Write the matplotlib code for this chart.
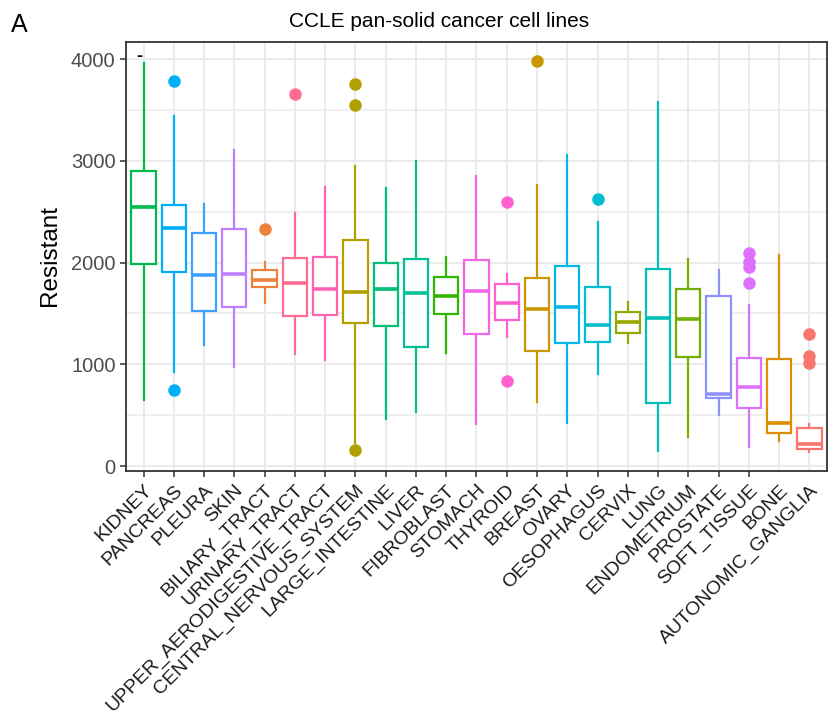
import numpy as np
import matplotlib
matplotlib.use("Agg")
import matplotlib.pyplot as plt

plt.rcParams["font.family"] = ["Liberation Sans", "DejaVu Sans"]

# Box statistics (Resistant score per tissue)
tissues = ["KIDNEY", "PANCREAS", "PLEURA", "SKIN", "BILIARY_TRACT", "URINARY_TRACT",
           "UPPER_AERODIGESTIVE_TRACT", "CENTRAL_NERVOUS_SYSTEM", "LARGE_INTESTINE",
           "LIVER", "FIBROBLAST", "STOMACH", "THYROID", "BREAST", "OVARY", "OESOPHAGUS",
           "CERVIX", "LUNG", "ENDOMETRIUM", "PROSTATE", "SOFT_TISSUE", "BONE",
           "AUTONOMIC_GANGLIA"]
whis_lo = [649, 921, 1193, 976, 1599, 1101, 1042, 223, 459, 534, 1107, 409,
           1271, 632, 426, 904, 1206, 151, 282, 501, 190, 249, 141]
q1 = [1985, 1904, 1523, 1566, 1762, 1474, 1484, 1402, 1376, 1173, 1494, 1297,
      1435, 1133, 1206, 1222, 1310, 622, 1074, 672, 573, 321, 167]
median = [2545, 2336, 1873, 1884, 1828, 1795, 1743, 1710, 1743, 1697, 1674, 1720,
          1602, 1543, 1560, 1389, 1415, 1451, 1448, 708, 773, 419, 213]
q3 = [2899, 2565, 2293, 2329, 1926, 2047, 2051, 2224, 1998, 2034, 1854, 2025,
      1789, 1851, 1966, 1756, 1517, 1936, 1736, 1674, 1058, 1052, 370]
whis_hi = [3958, 3440, 2578, 3106, 2002, 2486, 2739, 2948, 2729, 2998, 2051, 2853,
           1884, 2765, 3053, 2395, 1615, 3581, 2031, 1926, 1582, 2071, 413]
outliers = [[], [3784, 747], [], [], [2329], [3653], [], [3758, 3545, 157], [], [],
            [], [], [2598, 838], [3984], [], [2624], [], [], [], [],
            [2090, 2002, 1959, 1795], [], [1297, 1081, 1015]]


def hcl_hex(h, c=100.0, l=65.0):
    # R's hcl(): polar CIE-LUV -> sRGB
    hr = np.deg2rad(h)
    U, V = c * np.cos(hr), c * np.sin(hr)
    Xn, Yn, Zn = 95.047, 100.0, 108.883
    Y = Yn * ((l + 16) / 116) ** 3 if l > 8 else Yn * l / 903.3
    d = Xn + 15 * Yn + 3 * Zn
    u = U / (13 * l) + 4 * Xn / d
    v = V / (13 * l) + 9 * Yn / d
    X = 9.0 * Y * u / (4 * v)
    Z = -X / 3 - 5 * Y + 3 * Y / v
    M = np.array([[3.240479, -1.537150, -0.498535],
                  [-0.969256, 1.875992, 0.041556],
                  [0.055648, -0.204043, 1.057311]])
    rgb = M @ (np.array([X, Y, Z]) / 100)
    rgb = np.where(rgb <= 0.0031308, 12.92 * rgb, 1.055 * np.abs(rgb) ** (1 / 2.4) - 0.055)
    rgb = np.clip(rgb, 0, 1)
    return "#%02X%02X%02X" % tuple(int(round(x * 255)) for x in rgb)


# ggplot default hue palette, levels in alphabetical order
levels = sorted(tissues)
n = len(levels)
hues = 15 + np.arange(n) * 360 / n
palette = {lev: hcl_hex(h % 360) for lev, h in zip(levels, hues)}

stats = []
for i, t in enumerate(tissues):
    stats.append(dict(label=t, whislo=whis_lo[i], q1=q1[i], med=median[i],
                      q3=q3[i], whishi=whis_hi[i], fliers=outliers[i]))

fig = plt.figure(figsize=(8.37, 7.2), dpi=100)
ax = fig.add_axes([0.1505, 0.3465, 0.8375, 0.595])

ax.set_axisbelow(True)
ax.set_yticks([0, 1000, 2000, 3000, 4000])
ax.set_yticks([500, 1500, 2500, 3500], minor=True)
ax.grid(True, which="major", color="#EBEBEB", lw=1.4)
ax.grid(True, which="minor", axis="y", color="#EBEBEB", lw=1.1)

pos = np.arange(n)
for i, s in enumerate(stats):
    col = palette[tissues[i]]
    ax.bxp([s], positions=[pos[i]], widths=0.8, showcaps=False, patch_artist=True,
           boxprops=dict(facecolor="white", edgecolor=col, lw=1.6),
           whiskerprops=dict(color=col, lw=1.6),
           medianprops=dict(color=col, lw=2.6, solid_capstyle="butt"),
           flierprops=dict(marker="o", markerfacecolor=col, markeredgecolor=col,
                           markersize=8, linestyle="none"))

ax.text(-0.15, 4030, "-", ha="center", va="center", fontsize=13,
        fontweight="bold", color="black")

ax.set_xlim(-0.58, n - 1 + 0.58)
ax.set_ylim(-44, 4167)
ax.set_xticks(pos)
ax.set_xticklabels(tissues, rotation=45, ha="right", va="top",
                   rotation_mode="anchor", fontsize=14, color="#1A1A1A")
ax.set_yticklabels(["0", "1000", "2000", "3000", "4000"], fontsize=14.5, color="#4D4D4D")
ax.tick_params(axis="both", which="major", length=4, width=1.1, color="#333333")
ax.tick_params(axis="x", pad=4)
ax.tick_params(axis="y", which="minor", length=0)
for tl in ax.xaxis.get_major_ticks()[-2:]:
    tl.tick1line.set_visible(False)
for sp in ax.spines.values():
    sp.set_color("#333333")
    sp.set_linewidth(1.3)

fig.text(50 / 837, 1 - 255 / 720, "Resistant", rotation=90, ha="center", va="center",
         fontsize=17.5)
fig.text(439 / 837, 1 - 27 / 720, "CCLE pan-solid cancer cell lines", ha="center",
         va="baseline", fontsize=15)
fig.text(11 / 837, 1 - 32 / 720, "A", ha="left", va="baseline", fontsize=18)

fig.savefig("out.png", dpi=100)
